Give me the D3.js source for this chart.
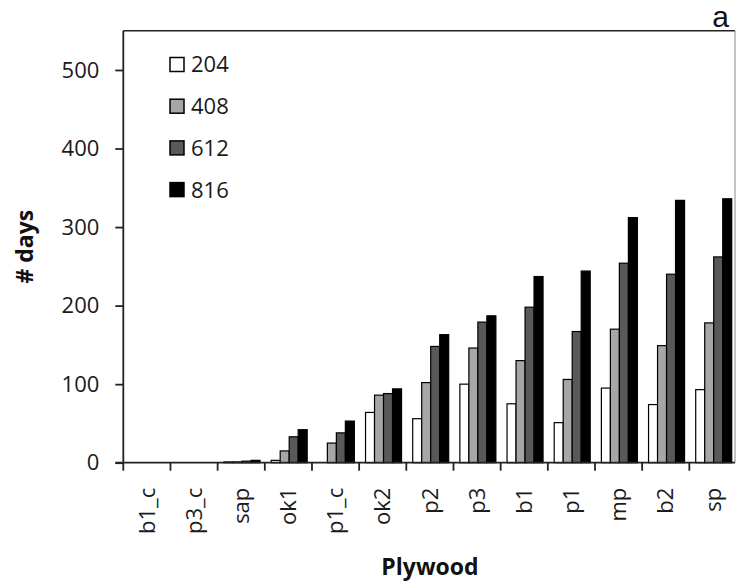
<!DOCTYPE html>
<html>
<head>
<meta charset="utf-8">
<script src="https://cdn.jsdelivr.net/npm/d3@7"></script>
<style>
  html, body { margin: 0; padding: 0; background: #fff; }
  svg { display: block; }
</style>
</head>
<body>
<div id="chart"></div>
<script>
const categories = ["b1_c", "p3_c", "sap", "ok1", "p1_c", "ok2", "p2", "p3", "b1", "p1", "mp", "b2", "sp"];
const seriesNames = ["204", "408", "612", "816"];
const values204 = [0, 0, 1, 3, 0, 64, 56, 100, 75, 51, 95, 74, 93];
const values408 = [0, 0, 1, 15, 25, 86, 102, 146, 130, 106, 170, 149, 178];
const values612 = [0, 0, 2, 33, 38, 88, 148, 179, 198, 167, 254, 240, 262];
const values816 = [0, 0, 3, 42, 53, 94, 163, 187, 237, 244, 312, 334, 336];
const yTicks = [0, 100, 200, 300, 400, 500];
const seriesColors = ["#ffffff", "#a6a6a6", "#595959", "#000000"];
const seriesValues = [values204, values408, values612, values816];

const W = 736, H = 588;
const svg = d3.select("#chart").append("svg").attr("width", W).attr("height", H);
const FONT = "'Open Sans', 'Noto Sans', sans-serif";

const pLeft = 123.3, pRight = 736.5, pTop = 30.7, pBottom = 462.7;

const x = d3.scaleBand().domain(categories).range([pLeft, pRight]).paddingInner(0).paddingOuter(0);
const xs = d3.scaleBand().domain(seriesNames).range([0, x.bandwidth()]).paddingInner(0).paddingOuter(0.62);
const y = d3.scaleLinear().domain([0, 550]).range([pBottom, pTop]);

// bars
const groups = svg.append("g").selectAll("g").data(categories).join("g")
  .attr("transform", d => `translate(${x(d) + 0.8},0)`);
groups.selectAll("rect")
  .data((c, i) => seriesNames.map((s, k) => ({ s, k, v: seriesValues[k][i] })).filter(d => d.v > 0))
  .join("rect")
  .attr("x", d => xs(d.s))
  .attr("width", xs.bandwidth())
  .attr("y", d => y(d.v))
  .attr("height", d => y(0) - y(d.v))
  .attr("fill", d => seriesColors[d.k])
  .attr("stroke", "#000")
  .attr("stroke-width", 1.2);

// frame: top and right
svg.append("line").attr("x1", pLeft).attr("x2", 735).attr("y1", pTop).attr("y2", pTop)
  .attr("stroke", "#222").attr("stroke-width", 1.5);
svg.append("line").attr("x1", 735).attr("x2", 735).attr("y1", pTop).attr("y2", pBottom)
  .attr("stroke", "#888").attr("stroke-width", 1);

// y axis
const yAxis = svg.append("g").attr("transform", `translate(${pLeft},0)`)
  .call(d3.axisLeft(y).tickValues(yTicks).tickSize(8).tickPadding(16).tickSizeOuter(0));
yAxis.select(".domain").attr("stroke", "#222").attr("stroke-width", 1.8).attr("d", `M0,${pTop}V${pBottom}`);
yAxis.selectAll(".tick line").attr("stroke", "#222").attr("stroke-width", 1.8);
yAxis.selectAll(".tick text").attr("font-family", FONT).attr("font-size", 22).attr("fill", "#1a1a1a");

// x axis
const xAxis = svg.append("g").attr("transform", `translate(0,${pBottom})`);
xAxis.append("line").attr("x1", pLeft - 8).attr("x2", 735).attr("y1", 0).attr("y2", 0)
  .attr("stroke", "#222").attr("stroke-width", 1.8);
xAxis.selectAll("line.tk").data(categories).join("line").attr("class", "tk")
  .attr("x1", d => x(d)).attr("x2", d => x(d)).attr("y1", 0).attr("y2", 8)
  .attr("stroke", "#222").attr("stroke-width", 1.8);
xAxis.selectAll("text").data(categories).join("text")
  .attr("transform", d => `translate(${x(d) + x.bandwidth() / 2},25) rotate(-90)`)
  .attr("text-anchor", "end")
  .attr("dy", "0.35em")
  .attr("font-family", FONT).attr("font-size", 22).attr("fill", "#1a1a1a")
  .text(d => d);

// axis titles
svg.append("text")
  .attr("transform", `translate(33,${(pTop + pBottom) / 2}) rotate(-90)`)
  .attr("text-anchor", "middle")
  .attr("font-family", FONT).attr("font-size", 23).attr("font-weight", "bold").attr("fill", "#111")
  .text("# days");
svg.append("text")
  .attr("x", 430).attr("y", 575)
  .attr("text-anchor", "middle")
  .attr("font-family", FONT).attr("font-size", 23).attr("font-weight", "bold").attr("fill", "#111")
  .text("Plywood");

// panel letter
svg.append("text")
  .attr("x", 729).attr("y", 27)
  .attr("text-anchor", "end")
  .attr("font-family", "'Liberation Sans Narrow', 'Liberation Sans', Arial, sans-serif")
  .attr("font-size", 30).attr("fill", "#111")
  .text("a");

// legend
const legend = svg.append("g");
const lg = legend.selectAll("g").data(seriesNames).join("g")
  .attr("transform", (d, i) => `translate(170,${57.5 + i * 41.7})`);
lg.append("rect").attr("width", 14).attr("height", 14)
  .attr("fill", (d, i) => seriesColors[i]).attr("stroke", "#000").attr("stroke-width", 1.5);
lg.append("text").attr("x", 21).attr("y", 7).attr("dy", "0.36em")
  .attr("font-family", FONT).attr("font-size", 22).attr("fill", "#1a1a1a")
  .text(d => d);
</script>
</body>
</html>
